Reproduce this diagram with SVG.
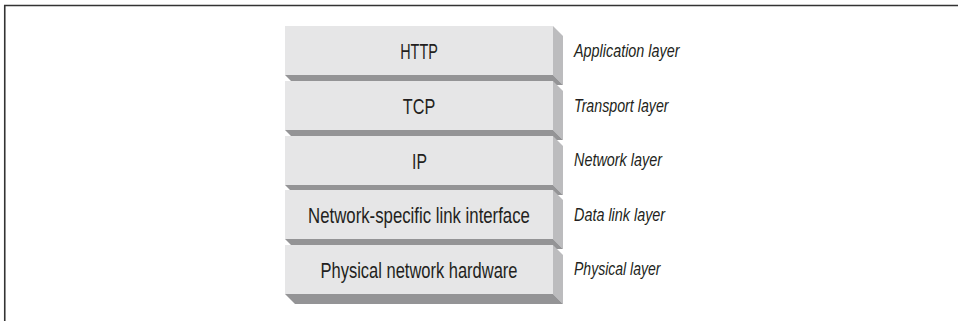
<svg xmlns="http://www.w3.org/2000/svg" width="958" height="321" viewBox="0 0 958 321">
<style>
.front{fill:#e6e6e7}
.side{fill:#bcbcbe}
.bottom{fill:#949496}
.lbl{font-family:"Liberation Sans",Arial,sans-serif;font-size:22.5px;fill:#231f20;text-anchor:middle}
.lay{font-family:"Liberation Sans",Arial,sans-serif;font-size:18px;font-style:italic;fill:#231f20}
</style>
<rect width="958" height="321" fill="#ffffff"/>
<path d="M4.75,321 V5.5 H958" fill="none" stroke="#333333" stroke-width="1.6"/>
<defs>
<g id="box">
<polygon class="side" points="268,0 278,10 278,59 268,49"/>
<polygon class="bottom" points="0,49 268,49 278,59 10,59"/>
<rect class="front" x="0" y="0" width="268" height="49"/>
</g>
</defs>
<g id="http">
<use href="#box" x="285" y="26"/>
<text class="lbl" transform="translate(419,59) scale(0.64,1)">HTTP</text>
<text class="lay" transform="translate(574,56.5) scale(0.8,1)">Application layer</text>
</g>
<g id="tcp">
<use href="#box" x="285" y="81"/>
<text class="lbl" transform="translate(419,114) scale(0.72,1)">TCP</text>
<text class="lay" transform="translate(574,111.5) scale(0.79,1)">Transport layer</text>
</g>
<g id="ip">
<use href="#box" x="285" y="136"/>
<text class="lbl" transform="translate(419.5,168.5) scale(0.7,1)">IP</text>
<text class="lay" transform="translate(574,166) scale(0.8,1)">Network layer</text>
</g>
<g id="datalink">
<use href="#box" x="285" y="190"/>
<text class="lbl" transform="translate(419,223) scale(0.746,1)">Network-specific link interface</text>
<text class="lay" transform="translate(574,220.5) scale(0.8,1)">Data link layer</text>
</g>
<g id="physical">
<use href="#box" x="285" y="245"/>
<text class="lbl" transform="translate(419,277.5) scale(0.733,1)">Physical network hardware</text>
<text class="lay" transform="translate(574,275) scale(0.78,1)">Physical layer</text>
</g>
<g id="connectors"/>
</svg>
